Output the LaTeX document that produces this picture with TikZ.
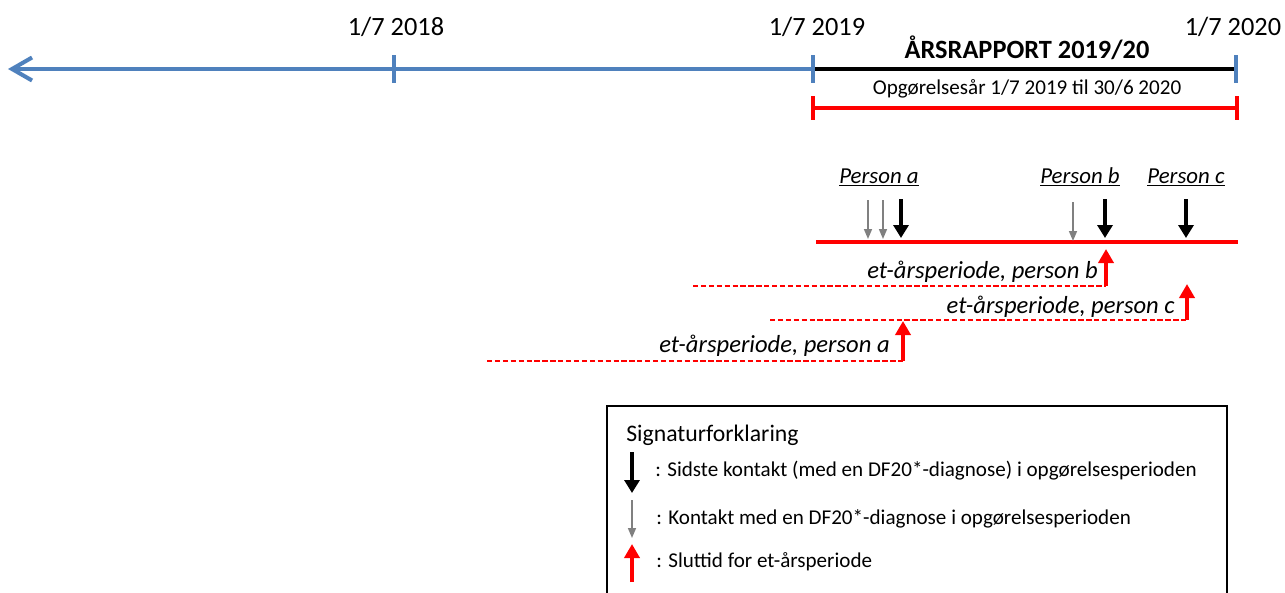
\documentclass[tikz,border=0pt]{standalone}
\usepackage{fontspec}
\setmainfont{Carlito}
\usepackage{tikz}
\usetikzlibrary{arrows.meta}
\definecolor{axisblue}{RGB}{79,129,189}
\tikzstyle{axis}=[draw=axisblue, line width=2.3pt]
\tikzstyle{tick}=[draw=axisblue, line width=2.3pt]
\tikzstyle{bracket}=[draw=red, line width=2.3pt]
\tikzstyle{datelabel}=[anchor=base, inner sep=0pt, font=\fontsize{15}{18}\selectfont]
\tikzstyle{personlabel}=[anchor=base, inner sep=0pt, font=\fontsize{13}{16}\selectfont\itshape]
\tikzstyle{periodlabel}=[anchor=base east, inner sep=0pt, font=\fontsize{14}{17}\selectfont\itshape]
\tikzstyle{legendtext}=[anchor=base west, inner sep=0pt, font=\fontsize{12}{15}\selectfont]
\tikzstyle{lastcontact}=[line width=2.5pt, -{Triangle[length=0.26cm, width=0.3cm]}]
\tikzstyle{contact}=[draw=gray, line width=0.9pt, -{Triangle[length=0.2cm, width=0.16cm]}]
\tikzstyle{endtime}=[draw=red, line width=2.5pt, -{Triangle[length=0.28cm, width=0.3cm]}]
\tikzstyle{period}=[draw=red, line width=0.85pt, dash pattern=on 3pt off 1.5pt]

\begin{document}
\begin{tikzpicture}[x=0.02cm, y=-0.02cm]
        \useasboundingbox (0, 0) rectangle (1285, 592);
        \coordinate (T0) at (8, 69);
        \coordinate (T1) at (394, 69);
        \coordinate (T2) at (813, 69);
        \coordinate (T3) at (1236, 69);
        \draw[axis, -{Straight Barb[length=0.4cm, width=0.46cm]}] (T3) -- (T0);
        \draw[line width=2.6pt] (T2) -- (T3);
        \draw[tick] (T1) ++(0, -14) -- ++(0, 28);
        \draw[tick] (T2) ++(0, -14) -- ++(0, 28);
        \draw[tick] (T3) ++(0, -14) -- ++(0, 28);
        \node[datelabel] (D1) at (396, 35) {1/7 2018};
        \node[datelabel] (D2) at (817, 35) {1/7 2019};
        \node[datelabel] (D3) at (1233, 35) {1/7 2020};
        \node[datelabel, font=\fontsize{15}{18}\selectfont\bfseries] (R) at (1027, 58) {ÅRSRAPPORT 2019/20};
        \node[datelabel, font=\fontsize{12}{15}\selectfont] (O) at (1027, 94) {Opgørelsesår 1/7 2019 til 30/6 2020};
        \coordinate (B1) at (813, 108);
        \coordinate (B2) at (1237, 108);
        \draw[bracket] (B1) -- (B2);
        \draw[bracket] (B1) ++(0, -12) -- ++(0, 24);
        \draw[bracket] (B2) ++(0, -12) -- ++(0, 24);
        \coordinate (L1) at (816, 242);
        \coordinate (L2) at (1238, 242);
        \draw[red, line width=2.8pt] (L1) -- (L2);
        \node[personlabel] (Pa) at (879, 183) {\underline{Person a}};
        \node[personlabel] (Pb) at (1080, 183) {\underline{Person b}};
        \node[personlabel] (Pc) at (1186, 183) {\underline{Person c}};
        \draw[contact] (868, 200) coordinate (Ga1) -- (868, 239) coordinate (Ga2);
        \draw[contact] (883, 200) coordinate (Ga3) -- (883, 239) coordinate (Ga4);
        \draw[contact] (1073, 202) coordinate (Gb1) -- (1073, 241) coordinate (Gb2);
        \draw[lastcontact] (901, 199) coordinate (Ka1) -- (901, 238) coordinate (Ka2);
        \draw[lastcontact] (1105, 199) coordinate (Kb1) -- (1105, 238) coordinate (Kb2);
        \draw[lastcontact] (1186, 199) coordinate (Kc1) -- (1186, 238) coordinate (Kc2);
        \coordinate (Eb0) at (693, 286);
        \coordinate (Eb1) at (1106, 286);
        \coordinate (Eb2) at (1106, 249);
        \coordinate (Ec0) at (770, 320);
        \coordinate (Ec1) at (1187, 320);
        \coordinate (Ec2) at (1187, 284);
        \coordinate (Ea0) at (487, 361);
        \coordinate (Ea1) at (903, 361);
        \coordinate (Ea2) at (903, 321);
        \draw[period] (Eb0) -- (Eb1);
        \draw[period] (Ec0) -- (Ec1);
        \draw[period] (Ea0) -- (Ea1);
        \draw[endtime] (Eb1) -- (Eb2);
        \draw[endtime] (Ec1) -- (Ec2);
        \draw[endtime] (Ea1) -- (Ea2);
        \node[periodlabel] (Sb) at (1098, 278) {et-årsperiode, person b};
        \node[periodlabel] (Sc) at (1175, 313) {et-årsperiode, person c};
        \node[periodlabel] (Sa) at (890, 352) {et-årsperiode, person a};
        \draw[line width=0.8pt] (607, 600) -- (607, 406) -- (1227, 406) -- (1227, 600);
        \node[legendtext, font=\fontsize{13.5}{16}\selectfont] (S) at (626, 441) {Signaturforklaring};
        \draw[lastcontact] (632, 452) coordinate (K1) -- (632, 493) coordinate (K2);
        \draw[contact] (632, 500) coordinate (G1) -- (632, 538) coordinate (G2);
        \draw[endtime] (632, 582) coordinate (E1) -- (632, 544) coordinate (E2);
        \node[legendtext] (S1) at (655, 476) {: Sidste kontakt (med en DF20*-diagnose) i opgørelsesperioden};
        \node[legendtext] (S2) at (656, 524) {: Kontakt med en DF20*-diagnose i opgørelsesperioden};
        \node[legendtext] (S3) at (656, 567) {: Sluttid for et-årsperiode};
    \end{tikzpicture}
\end{document}
